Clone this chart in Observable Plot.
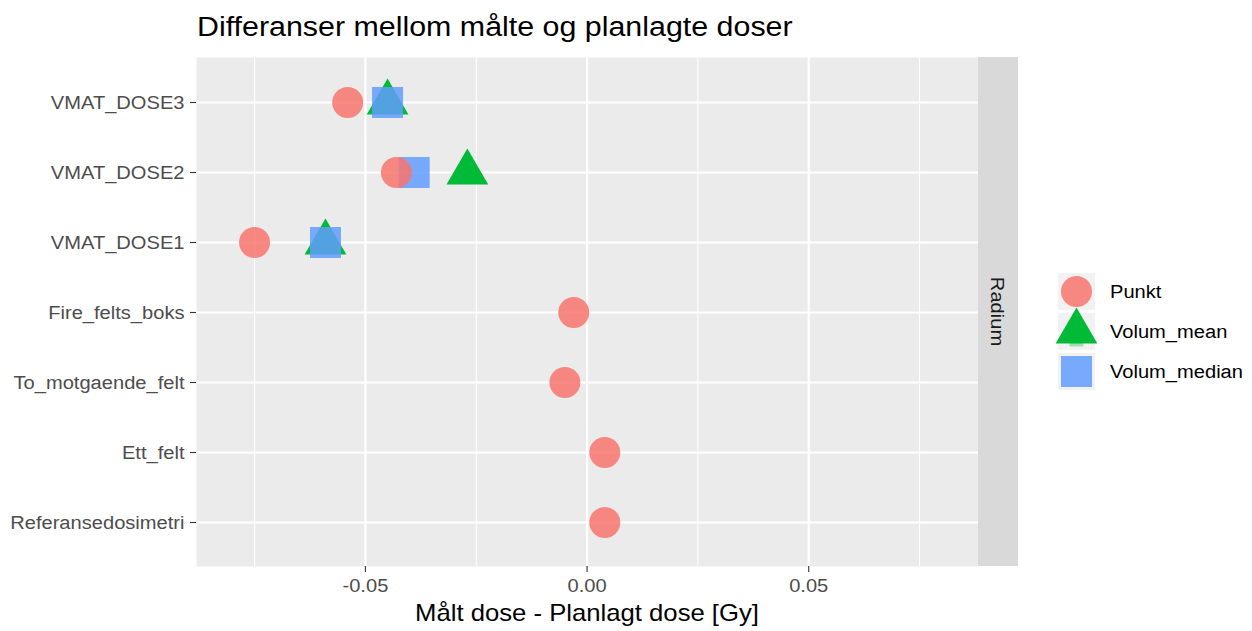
<!DOCTYPE html>
<html>
<head>
<meta charset="utf-8">
<script src="https://cdn.jsdelivr.net/npm/d3@7"></script>
<script src="https://cdn.jsdelivr.net/npm/@observablehq/plot@0.6"></script>
<style>
  html, body { margin: 0; padding: 0; background: #fff; }
  #chart svg { display: block; }
</style>
</head>
<body>
<div id="chart"></div>
<script>
// Categories, top to bottom as shown
const categories = ["VMAT_DOSE3", "VMAT_DOSE2", "VMAT_DOSE1", "Fire_felts_boks", "To_motgaende_felt", "Ett_felt", "Referansedosimetri"];
// Series values (Gy)
const punktCats = ["VMAT_DOSE3", "VMAT_DOSE2", "VMAT_DOSE1", "Fire_felts_boks", "To_motgaende_felt", "Ett_felt", "Referansedosimetri"];
const punktVals = [-0.054, -0.043, -0.075, -0.003, -0.005, 0.004, 0.004];
const volumCats = ["VMAT_DOSE3", "VMAT_DOSE2", "VMAT_DOSE1"];
const volumMeanVals = [-0.045, -0.027, -0.059];
const volumMedianVals = [-0.045, -0.039, -0.059];
const xTicks = [-0.05, 0, 0.05];
const xMinor = [-0.075, -0.025, 0.025, 0.075];
const seriesNames = ["Punkt", "Volum_mean", "Volum_median"];
const seriesColors = ["#F8766D", "#00BA38", "#619CFF"];
const facetLabel = "Radium";
const titleText = "Differanser mellom målte og planlagte doser";
const xLabel = "Målt dose - Planlagt dose [Gy]";

const punkt = punktCats.map((c, i) => ({cat: c, v: punktVals[i]}));
const vmean = volumCats.map((c, i) => ({cat: c, v: volumMeanVals[i]}));
const vmedian = volumCats.map((c, i) => ({cat: c, v: volumMedianVals[i]}));

const W = 1252, H = 631;
const mL = 196, mR = 274, mT = 57, mB = 65;
const font = "'Liberation Sans', Arial, Helvetica, sans-serif";
const SX = 1.07; // horizontal text stretch seen in the reference

const chart = Plot.plot({
  width: W,
  height: H,
  marginLeft: mL,
  marginRight: mR,
  marginTop: mT,
  marginBottom: mB,
  style: {fontFamily: font, background: "#fff"},
  x: {domain: [-0.0881, 0.0883], label: null},
  y: {type: "point", domain: categories, padding: 0.6, label: null},
  marks: [
    Plot.frame({fill: "#EBEBEB", stroke: "none"}),
    Plot.gridX(xMinor, {stroke: "#fff", strokeOpacity: 1, strokeWidth: 1.1}),
    Plot.gridX(xTicks, {stroke: "#fff", strokeOpacity: 1, strokeWidth: 2.2}),
    Plot.gridY(categories, {stroke: "#fff", strokeOpacity: 1, strokeWidth: 2.2}),
    Plot.dot(vmean, {x: "v", y: "cat", symbol: "triangle", r: 15.5, fill: seriesColors[1], fillOpacity: 1}),
    Plot.dot(vmedian, {x: "v", y: "cat", symbol: "square", r: 17.5, fill: seriesColors[2], fillOpacity: 0.85}),
    Plot.dot(punkt, {x: "v", y: "cat", symbol: "circle", r: 15.5, fill: seriesColors[0], fillOpacity: 0.85}),
    Plot.axisX(xTicks, {tickSize: 6, tickPadding: 6, fontSize: 18.8, fill: "#4D4D4D", stroke: "#333333", strokeWidth: 1.1, tickFormat: d => d.toFixed(2), label: null}),
    Plot.axisY({tickSize: 6, tickPadding: 6, fontSize: 18.8, fill: "#4D4D4D", stroke: "#333333", strokeWidth: 1.1, label: null})
  ]
});

document.getElementById("chart").appendChild(chart);

const svg = d3.select(chart);

// stretch axis tick labels horizontally about their anchor
svg.selectAll('g[aria-label$="tick label"] text').each(function () {
  const t = this.getAttribute("transform");
  if (t) {
    this.setAttribute("transform", t + ` scale(${SX},1)`);
  } else {
    const x = +this.getAttribute("x") || 0, y = +this.getAttribute("y") || 0;
    this.removeAttribute("x"); this.removeAttribute("y");
    this.setAttribute("transform", `translate(${x},${y}) scale(${SX},1)`);
  }
});

// Decorations: title, x-axis title, facet strip, legend
const panelRight = W - mR, panelTop = mT, panelBottom = H - mB;

svg.append("text")
  .attr("transform", `translate(197,36) scale(${SX},1)`)
  .attr("text-anchor", "start")
  .attr("font-family", font).attr("font-size", 28.4).attr("fill", "#000")
  .text(titleText);

svg.append("text")
  .attr("transform", `translate(${(mL + panelRight) / 2},621) scale(${SX},1)`)
  .attr("text-anchor", "middle")
  .attr("font-family", font).attr("font-size", 24).attr("fill", "#000")
  .text(xLabel);

svg.append("rect")
  .attr("x", panelRight).attr("y", panelTop)
  .attr("width", 40).attr("height", panelBottom - panelTop)
  .attr("fill", "#D9D9D9");
svg.append("text")
  .attr("transform", `translate(${panelRight + 20},${(panelTop + panelBottom) / 2}) rotate(90) scale(${SX},1)`)
  .attr("text-anchor", "middle").attr("dy", "0.35em")
  .attr("font-family", font).attr("font-size", 18.8).attr("fill", "#1A1A1A")
  .text(facetLabel);

// Legend
const lg = svg.append("g");
const keyX = 1076.5, keyY0 = 291.5, keyStep = 40;
const symbols = [d3.symbolCircle, d3.symbolTriangle, d3.symbolSquare];
const radii = [15.5, 15.5, 17.5];
const opac = [0.85, 1, 0.85];
seriesNames.forEach((name, i) => {
  lg.append("rect")
    .attr("x", keyX - 18.5).attr("y", keyY0 + i * keyStep - 18.5)
    .attr("width", 37).attr("height", 37)
    .attr("fill", "#F2F2F2");
});
// faint square remnant under the triangle key
lg.append("rect")
  .attr("x", keyX - 7).attr("y", keyY0 + keyStep + 8)
  .attr("width", 14).attr("height", 7)
  .attr("fill", seriesColors[1]).attr("fill-opacity", 0.35);
seriesNames.forEach((name, i) => {
  lg.append("path")
    .attr("transform", `translate(${keyX},${keyY0 + i * keyStep})`)
    .attr("d", d3.symbol(symbols[i], Math.PI * radii[i] * radii[i])())
    .attr("fill", seriesColors[i]).attr("fill-opacity", opac[i]);
  lg.append("text")
    .attr("transform", `translate(1110,${keyY0 + i * keyStep}) scale(${SX},1)`)
    .attr("text-anchor", "start")
    .attr("dy", "0.35em")
    .attr("font-family", font).attr("font-size", 18.8).attr("fill", "#000")
    .text(name);
});
</script>
</body>
</html>
